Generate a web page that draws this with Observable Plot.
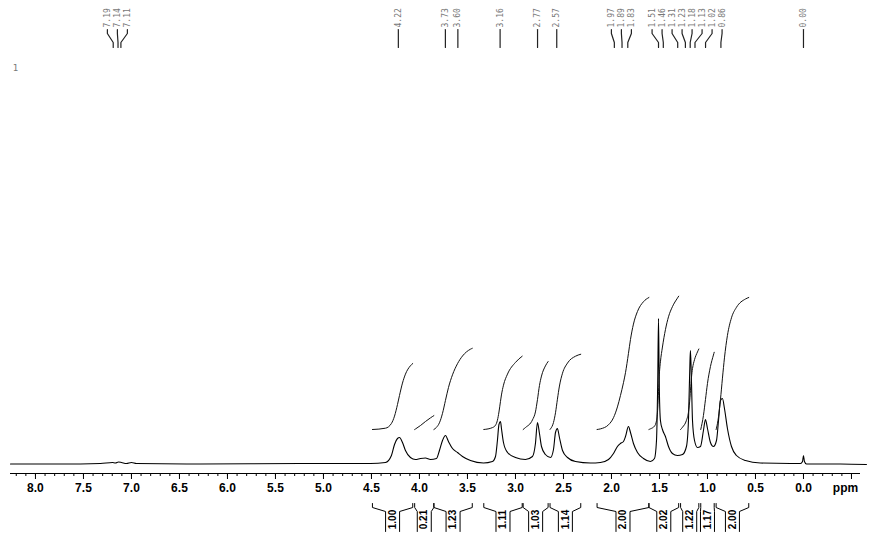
<!DOCTYPE html>
<html>
<head>
<meta charset="utf-8">
<script src="https://cdn.jsdelivr.net/npm/d3@7"></script>
<script src="https://cdn.jsdelivr.net/npm/@observablehq/plot@0.6"></script>
<style>
  html, body { margin: 0; padding: 0; background: #fff; }
  #chart svg { display: block; }
</style>
</head>
<body>
<div id="chart"></div>
<script>
// 1H NMR spectrum: traced trace (chemical shift in ppm, relative intensity)
const tracePpm = [
  8.260, 7.740, 7.323, 7.198, 7.167, 7.135, 7.104, 7.052, 7.000, 6.948, 6.281, 5.240,
  4.510, 4.354, 4.292, 4.260, 4.229, 4.208, 4.177, 4.146, 4.094, 4.042, 3.990, 3.938,
  3.885, 3.823, 3.792, 3.760, 3.729, 3.698, 3.656, 3.604, 3.552, 3.469, 3.333, 3.240,
  3.208, 3.188, 3.172, 3.156, 3.146, 3.125, 3.083, 3.000, 2.896, 2.823, 2.792, 2.771,
  2.750, 2.729, 2.688, 2.635, 2.604, 2.583, 2.563, 2.542, 2.510, 2.458, 2.375, 2.219,
  2.115, 2.031, 1.979, 1.938, 1.906, 1.875, 1.854, 1.823, 1.802, 1.771, 1.729, 1.667,
  1.594, 1.552, 1.531, 1.518, 1.510, 1.503, 1.490, 1.469, 1.438, 1.406, 1.365, 1.313,
  1.260, 1.219, 1.198, 1.182, 1.177, 1.167, 1.156, 1.135, 1.104, 1.073, 1.042, 1.021,
  1.000, 0.969, 0.938, 0.906, 0.885, 0.865, 0.844, 0.823, 0.792, 0.750, 0.698, 0.604,
  0.448, 0.135, 0.031, 0.010, 0.000, -0.010, -0.031, -0.385, -0.656
];
const traceIntensity = [
  -0.5, -0.5, 0, 1, 0.5, 1.5, 1, 0, 1, 0, -0.5, 0,
  0, 1, 8, 19, 25, 26, 21, 13, 6, 4, 5, 5.5,
  4, 5, 13, 23, 28, 22, 15, 11, 7, 3, 0.5, 2,
  7, 23, 39, 42, 35, 21, 11, 6, 4, 7, 20, 41,
  30, 17, 9, 6, 14, 31, 35, 26, 13, 6, 2, 0.5,
  1, 4, 10, 17, 20, 22, 27, 37, 31, 20, 11, 5,
  2, 5, 23, 83, 145, 83, 43, 34, 27, 17, 10, 8,
  9, 17, 43, 103, 113, 83, 43, 23, 16, 17, 33, 44,
  35, 21, 17, 23, 43, 63, 65, 55, 35, 17, 8, 3,
  0.5, 0, 0, 2, 8, 2, -0.5, -0.5, -1
];

// picked peaks (ppm)
const peakShifts = [7.19, 7.14, 7.11, 4.22, 3.73, 3.60, 3.16, 2.77, 2.57, 1.97, 1.89, 1.83,
  1.51, 1.46, 1.31, 1.23, 1.18, 1.13, 1.02, 0.86, 0.00];

// integration regions (ppm) and integral values
const integralFrom = [4.49, 4.05, 3.85, 3.33, 2.92, 2.64, 2.15, 1.61, 1.28, 1.07, 0.91];
const integralTo   = [4.07, 3.85, 3.45, 2.93, 2.66, 2.32, 1.61, 1.30, 1.09, 0.93, 0.57];
const integralValues = [1.00, 0.21, 1.23, 1.11, 1.03, 1.14, 2.00, 2.02, 1.22, 1.17, 2.00];

// axis ticks (ppm)
const majorTicks = d3.range(-5, 81, 5).map(d => d / 10);
const minorTicks = d3.range(-5, 83, 1).map(d => d / 10);
const tickLabels = majorTicks.filter(d => d >= 0).map(d => d.toFixed(1));
const spectrumNumber = "1";
const unitLabel = "ppm";

// ---- layout ----
const W = 869, H = 539;
const xDomain = [8.26, -0.594], xRange = [10, 860];
const yDomain = [-10, 463], yRange = [473, 0];
const xs = d3.scaleLinear(xDomain, xRange);
const ys = d3.scaleLinear(yDomain, yRange);
const col = px => xs.invert(px);   // pixel column -> ppm
const row = py => ys.invert(py);   // pixel row -> y value
const integralUnit = 66;           // y units per integral unit
const integralBase = 34;           // y level where each integral starts

// spread labels so neighbours keep a minimum gap, each cluster centred on its members
function spread(centers, gap) {
  let groups = centers.map((c, i) => ({lo: i, hi: i, mean: c}));
  let merged = true;
  while (merged) {
    merged = false;
    for (let k = 0; k < groups.length - 1; k++) {
      const a = groups[k], b = groups[k + 1];
      const na = a.hi - a.lo + 1, nb = b.hi - b.lo + 1;
      const aEnd = a.mean + (na - 1) / 2 * gap;
      const bStart = b.mean - (nb - 1) / 2 * gap;
      if (bStart - aEnd < gap) {
        groups.splice(k, 2, {lo: a.lo, hi: b.hi, mean: (a.mean * na + b.mean * nb) / (na + nb)});
        merged = true;
        break;
      }
    }
  }
  const out = [];
  for (const g of groups) {
    const n = g.hi - g.lo + 1;
    for (let i = 0; i < n; i++) out.push(g.mean + (i - (n - 1) / 2) * gap);
  }
  return out;
}

const spectrum = tracePpm.map((p, i) => ({ppm: p, v: traceIntensity[i]}));

// intensity at a region boundary
function intensityAt(p) {
  for (let i = 0; i < tracePpm.length - 1; i++) {
    const a = tracePpm[i], b = tracePpm[i + 1];
    if (a >= p && p >= b) {
      const t = (a - p) / (a - b);
      return traceIntensity[i] + t * (traceIntensity[i + 1] - traceIntensity[i]);
    }
  }
  return 0;
}

// running integral of the trace over each region, scaled to its stated value
const integralLines = [];
integralFrom.forEach((from, k) => {
  const to = integralTo[k];
  const pts = [{ppm: from, v: intensityAt(from)}];
  spectrum.forEach(d => { if (d.ppm < from && d.ppm > to) pts.push(d); });
  pts.push({ppm: to, v: intensityAt(to)});
  const cum = [0];
  for (let i = 1; i < pts.length; i++) {
    const a = Math.max(0, pts[i - 1].v), b = Math.max(0, pts[i].v);
    cum.push(cum[i - 1] + (a + b) / 2 * (pts[i - 1].ppm - pts[i].ppm));
  }
  const total = cum[cum.length - 1];
  pts.forEach((d, i) => integralLines.push({
    id: k, ppm: d.ppm, v: integralBase + cum[i] / total * integralValues[k] * integralUnit
  }));
});

// peak labels at the top
const peakPx = peakShifts.map(p => xs(p));
const labelPx = spread(peakPx, 10);
const peakLabels = peakShifts.map((p, i) => ({
  text: p.toFixed(2), lx: col(labelPx[i]), px: p
}));
const peakLeaders = peakLabels.flatMap((d, i) => [
  {id: i, ppm: d.lx, v: row(29)},
  {id: i, ppm: d.lx, v: row(33)},
  {id: i, ppm: d.px, v: row(42)},
  {id: i, ppm: d.px, v: row(47)}
]);

// integral brackets below the axis
const midPx = integralFrom.map((f, k) => (xs(f) + xs(integralTo[k])) / 2);
const intLabelPx = spread(midPx, 13);
const intLabels = integralValues.map((v, k) => ({text: v.toFixed(2), x: col(intLabelPx[k])}));
const brackets = integralFrom.flatMap((f, k) => {
  const c = intLabelPx[k];
  return [
    {id: `l${k}`, ppm: f, v: row(503)},
    {id: `l${k}`, ppm: f, v: row(507)},
    {id: `l${k}`, ppm: col(c - 7), v: row(511)},
    {id: `l${k}`, ppm: col(c - 7), v: row(531)},
    {id: `r${k}`, ppm: integralTo[k], v: row(503)},
    {id: `r${k}`, ppm: integralTo[k], v: row(507)},
    {id: `r${k}`, ppm: col(c + 7), v: row(511)},
    {id: `r${k}`, ppm: col(c + 7), v: row(531)}
  ];
});

const chart = Plot.plot({
  width: W,
  height: H,
  marginLeft: 10,
  marginRight: 9,
  marginTop: 0,
  marginBottom: 66,
  style: {background: "#fff", overflow: "visible"},
  x: {domain: xDomain, range: xRange, axis: null},
  y: {domain: yDomain, range: yRange, axis: null},
  marks: [
    // spectrum
    Plot.line(spectrum, {x: "ppm", y: "v", stroke: "#000", strokeWidth: 1.1, curve: "monotone-x"}),
    // integral curves
    Plot.line(integralLines, {x: "ppm", y: "v", z: "id", stroke: "#111", strokeWidth: 1, curve: "monotone-x"}),
    // ppm axis
    Plot.ruleY([row(473)], {stroke: "#000", strokeWidth: 1}),
    Plot.ruleX(minorTicks, {x: d => d, y1: row(473), y2: row(476), stroke: "#000"}),
    Plot.ruleX(majorTicks, {x: d => d, y1: row(473), y2: row(479), stroke: "#000"}),
    Plot.text(tickLabels, {x: d => +d, y: row(488), text: d => d, fontSize: 12, fontWeight: "bold",
      fontFamily: "Liberation Sans, Arial, sans-serif", fill: "#000"}),
    Plot.text([unitLabel], {x: col(845), y: row(488), text: d => d, fontSize: 12, fontWeight: "bold",
      fontFamily: "Liberation Sans, Arial, sans-serif", fill: "#000"}),
    // peak labels and leaders
    Plot.text(peakLabels, {x: "lx", y: row(27), text: "text", rotate: -90, textAnchor: "start",
      fontSize: 8, fontFamily: "DejaVu Sans Mono, monospace", fill: "#777"}),
    Plot.line(peakLeaders, {x: "ppm", y: "v", z: "id", stroke: "#222", strokeWidth: 1.2}),
    Plot.text([spectrumNumber], {x: col(15), y: row(68), text: d => d, fontSize: 9,
      fontFamily: "DejaVu Sans Mono, monospace", fill: "#777"}),
    // integral brackets and values
    Plot.line(brackets, {x: "ppm", y: "v", z: "id", stroke: "#000", strokeWidth: 1}),
    Plot.text(intLabels, {x: "x", y: row(519), text: "text", rotate: -90, fontSize: 10, fontWeight: "bold",
      fontFamily: "Liberation Sans, Arial, sans-serif", fill: "#000"})
  ]
});
document.getElementById("chart").appendChild(chart);
</script>
</body>
</html>
